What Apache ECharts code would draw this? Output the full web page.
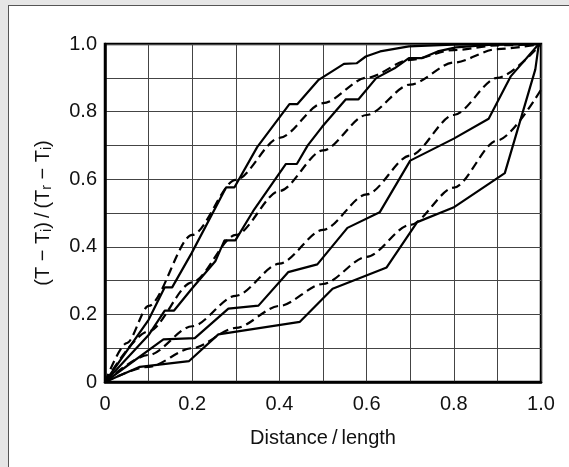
<!DOCTYPE html>
<html>
<head>
<meta charset="utf-8">
<script src="https://cdn.jsdelivr.net/npm/echarts@6/dist/echarts.min.js"></script>
<style>
html,body{margin:0;padding:0;width:569px;height:467px;overflow:hidden;background:#e6e6e6;}
#panel{position:absolute;left:8px;top:5px;width:600px;height:500px;background:#fff;border-left:1px solid #555;border-top:1px solid #555;}
#chart{position:absolute;left:0;top:0;width:569px;height:467px;}
</style>
</head>
<body>
<div id="panel"></div>
<div id="chart"></div>
<script>
// Solid curves (measured)
const solidA = [[0,0],[0.1,0.184],[0.137,0.28],[0.154,0.28],[0.199,0.382],[0.278,0.576],[0.297,0.576],[0.349,0.695],[0.423,0.822],[0.441,0.822],[0.49,0.894],[0.548,0.941],[0.577,0.943],[0.598,0.963],[0.631,0.978],[0.697,0.993],[0.797,0.998],[1,1]];
const solidB = [[0,0],[0.1,0.139],[0.137,0.211],[0.158,0.211],[0.199,0.276],[0.253,0.357],[0.274,0.419],[0.299,0.419],[0.34,0.506],[0.415,0.645],[0.44,0.645],[0.465,0.7],[0.498,0.755],[0.552,0.836],[0.581,0.836],[0.622,0.899],[0.664,0.928],[0.697,0.958],[0.726,0.958],[0.763,0.978],[0.805,0.99],[0.88,0.997],[1,1]];
const solidC = [[0,0],[0.134,0.126],[0.206,0.13],[0.283,0.217],[0.352,0.226],[0.42,0.325],[0.487,0.348],[0.556,0.456],[0.63,0.502],[0.7,0.655],[0.8,0.72],[0.88,0.779],[0.931,0.905],[0.995,1]];
const solidD = [[0,0],[0.08,0.045],[0.193,0.062],[0.26,0.141],[0.447,0.178],[0.522,0.276],[0.646,0.339],[0.716,0.473],[0.799,0.516],[0.917,0.618],[0.987,0.925],[0.995,1]];
// Dashed curves (measured)
const dashed1 = [[0,0],[0.05,0.115],[0.1,0.225],[0.2,0.435],[0.3,0.598],[0.4,0.722],[0.5,0.825],[0.6,0.9],[0.7,0.953],[0.8,0.982],[0.9,0.996],[1,1]];
const dashed2 = [[0,0],[0.1,0.15],[0.2,0.295],[0.3,0.435],[0.4,0.565],[0.5,0.685],[0.6,0.79],[0.7,0.88],[0.8,0.945],[0.9,0.985],[1,1]];
const dashed3 = [[0,0],[0.1,0.08],[0.2,0.165],[0.3,0.255],[0.4,0.35],[0.5,0.45],[0.6,0.555],[0.7,0.67],[0.8,0.79],[0.9,0.9],[1,1]];
const dashed4 = [[0,0],[0.1,0.045],[0.2,0.1],[0.3,0.16],[0.4,0.225],[0.5,0.29],[0.6,0.37],[0.7,0.465],[0.8,0.575],[0.9,0.715],[1,0.865]];

const xName = 'Distance\u2009/\u2009length';
const yName = '(T \u2212 T{s|i})\u2009/\u2009(T{s|r} \u2212 T{s|i})';

const fmt = v => { const k = Math.round(v*10); if (k % 2) return ''; return k === 0 ? '0' : (k/10).toFixed(1); };
const font = '"Liberation Sans", Arial, sans-serif';

const chart = echarts.init(document.getElementById('chart'), null, {renderer:'canvas'});
const solidStyle = {color:'#000', width:2.2};
const dashStyle = {color:'#000', width:2.2, type:[9,5]};
function solid(d){ return {type:'line', data:d, symbol:'none', lineStyle:solidStyle, z:3}; }
function dash(d){ return {type:'line', data:d, symbol:'none', smooth:0.3, smoothMonotone:'x', lineStyle:dashStyle, z:3}; }

chart.setOption({
  backgroundColor:'transparent',
  animation:false,
  grid:{left:105, top:44, width:436, height:338, show:true, borderColor:'#000', borderWidth:2.5, backgroundColor:'transparent'},
  xAxis:{type:'value', min:0, max:1, interval:0.1,
    axisLine:{show:true, lineStyle:{color:'#000', width:2.5}}, axisTick:{show:false},
    splitLine:{show:true, lineStyle:{color:'#444', width:1}},
    axisLabel:{formatter:fmt, color:'#111', fontSize:20, fontFamily:font, margin:12, showMaxLabel:true, showMinLabel:true},
    name:xName, nameLocation:'middle', nameGap:46, nameTextStyle:{color:'#111', fontSize:20, fontFamily:font}},
  yAxis:{type:'value', min:0, max:1, interval:0.1,
    axisLine:{show:true, lineStyle:{color:'#000', width:2.5}}, axisTick:{show:false},
    splitLine:{show:true, lineStyle:{color:'#444', width:1}},
    axisLabel:{formatter:fmt, color:'#111', fontSize:20, fontFamily:font, margin:8},
    name:yName, nameLocation:'middle', nameGap:52, nameRotate:90,
    nameTextStyle:{color:'#111', fontSize:20, fontFamily:font,
      rich:{s:{fontSize:14, fontFamily:font, color:'#111', padding:[0,0,-8,0]}}}},
  series:[solid(solidA), solid(solidB), solid(solidC), solid(solidD), dash(dashed1), dash(dashed2), dash(dashed3), dash(dashed4)]
});
</script>
</body>
</html>
